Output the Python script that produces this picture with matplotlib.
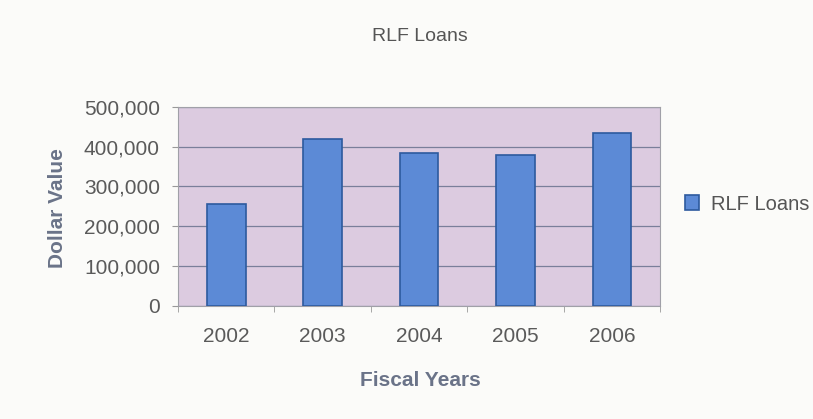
import matplotlib.pyplot as plt
from matplotlib.ticker import FuncFormatter, FixedLocator
import numpy as np

plt.rcParams['font.family'] = ['Liberation Sans', 'DejaVu Sans']

years = ['2002', '2003', '2004', '2005', '2006']
loans = [255000, 418000, 384000, 379000, 435000]
y_ticks = [0, 100000, 200000, 300000, 400000, 500000]

fig = plt.figure(figsize=(8.13, 4.19), dpi=100)
fig.patch.set_facecolor('#fbfbf9')
ax = fig.add_axes([0.219, 0.27, 0.593, 0.475])
ax.set_facecolor('#dccbe0')

x = np.arange(len(years))
ax.bar(x, loans, width=0.4, color='#5c8ad6', edgecolor='#2d5a9e', linewidth=1.2,
       label='RLF Loans', zorder=3)

ax.set_xlim(-0.5, len(years) - 0.5)
ax.set_ylim(0, 500000)
ax.set_yticks(y_ticks)
ax.yaxis.set_major_formatter(FuncFormatter(lambda v, p: f'{int(v):,}'))
ax.grid(axis='y', color='#7a7f9a', linewidth=0.9, zorder=1)

ax.set_xticks(x)
ax.set_xticklabels(years)
ax.xaxis.set_minor_locator(FixedLocator(np.arange(-0.5, len(years), 1.0)))
ax.tick_params(axis='x', which='major', length=0, pad=15, labelsize=15, labelcolor='#5a5a5a')
ax.tick_params(axis='x', which='minor', length=4, color='#999999')
ax.tick_params(axis='y', length=4, color='#999999', pad=9, labelsize=15, labelcolor='#5a5a5a')

for s in ax.spines.values():
    s.set_color('#a0a0a8')
    s.set_linewidth(0.8)

fig.text(0.517, 0.093, 'Fiscal Years', ha='center', va='center', fontsize=15,
         fontweight='bold', color='#6a7388')
fig.text(0.071, 0.504, 'Dollar Value', ha='center', va='center', rotation=90,
         fontsize=15, fontweight='bold', color='#6a7388')
fig.text(0.517, 0.914, 'RLF Loans', ha='center', va='center', fontsize=14, color='#555555')

leg = fig.legend(*ax.get_legend_handles_labels(), loc='center left',
                 bbox_to_anchor=(0.842, 0.513), frameon=False, borderpad=0,
                 borderaxespad=0, fontsize=14.5, handlelength=0.7, handleheight=0.7,
                 handletextpad=0.6)
for t in leg.get_texts():
    t.set_color('#555555')

fig.savefig('out.png', dpi=100, facecolor=fig.get_facecolor())
